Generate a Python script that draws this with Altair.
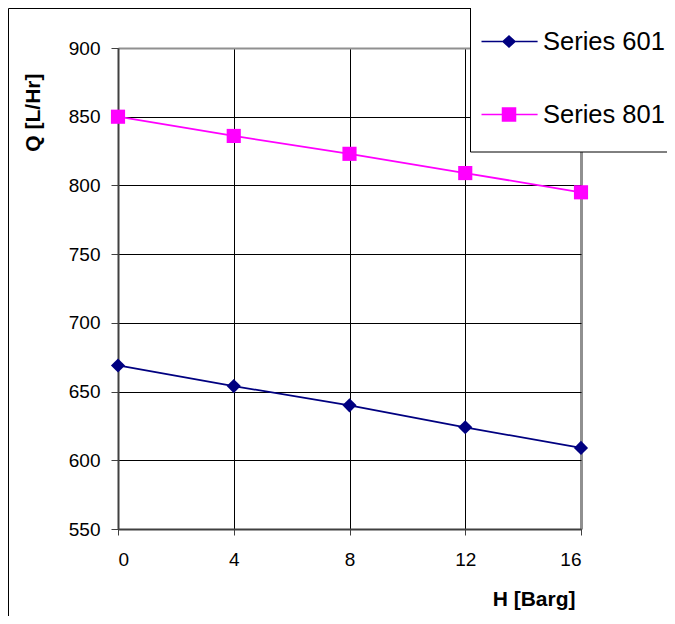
import altair as alt
import pandas as pd

h_values = [0, 4, 8, 12, 16]
q_601 = [669, 654, 640, 624, 609]
q_801 = [850, 836, 823, 809, 795]
series_names = ["Series 601", "Series 801"]
series_colors = ["#000080", "#FF00FF"]
x_ticks = [0, 4, 8, 12, 16]
y_ticks = [550, 600, 650, 700, 750, 800, 850, 900]

df = pd.DataFrame({
    "H": h_values * 2,
    "Q": q_601 + q_801,
    "series": [series_names[0]] * len(h_values) + [series_names[1]] * len(h_values),
})

FONT = "Liberation Sans"

color_scale = alt.Scale(domain=series_names, range=series_colors)

x_axis = alt.Axis(
    values=x_ticks, title="H [Barg]", titleFont=FONT, titleFontSize=21, titleFontWeight="bold",
    titleColor="black", titleAlign="right", titleBaseline="alphabetic", titleX=457, titleY=76,
    labelFont=FONT, labelFontSize=19, labelColor="black", labelPadding=15, tickSize=6,
    tickColor="#404040", domainColor="#404040", domainWidth=2,
    gridColor={"condition": {"test": "datum.value >= 16", "value": "#909090"}, "value": "black"},
    gridWidth={"condition": {"test": "datum.value >= 16", "value": 3}, "value": 1},
)
y_axis = alt.Axis(
    values=y_ticks, title="Q [L/Hr]", titleFont=FONT, titleFontSize=21, titleFontWeight="bold",
    titleColor="black", titleAngle=270, titleAlign="right", titleBaseline="alphabetic",
    titleX=-79, titleY=25,
    labelFont=FONT, labelFontSize=19, labelColor="black", labelPadding=11, tickSize=7,
    tickColor="#404040", domainColor="#404040", domainWidth=2,
    gridColor={"condition": {"test": "datum.value >= 900", "value": "#909090"}, "value": "black"},
    gridWidth={"condition": {"test": "datum.value >= 900", "value": 2}, "value": 1},
)

base = alt.Chart(df).encode(
    x=alt.X("H:Q", scale=alt.Scale(domain=[0, 16], nice=False, zero=False), axis=x_axis),
    y=alt.Y("Q:Q", scale=alt.Scale(domain=[550, 900], nice=False, zero=False), axis=y_axis),
)

lines = base.mark_line(strokeWidth=1.75).encode(
    color=alt.Color("series:N", scale=color_scale, legend=None)
)

points = base.mark_point(filled=True, size=200, opacity=1).encode(
    color=alt.Color("series:N", scale=color_scale, legend=None),
    shape=alt.Shape("series:N", scale=alt.Scale(domain=series_names, range=["diamond", "square"]), legend=None),
)

legend_paths = [
    "M-0.85,0H1.02M0.067,-0.18L0.267,0L0.067,0.18L-0.133,0Z",
    "M-0.85,0H1.02M-0.15,-0.217H0.284V0.217H-0.15Z",
]

leg = alt.Legend(
    title="\u00a0", titleOrient="bottom", titleFontSize=8, titlePadding=9,
    orient="none", legendX=352, legendY=-43.5, padding=6,
    strokeColor="black", fillColor="white", symbolSize=3600, symbolStrokeWidth=1.5,
    symbolOpacity=1, labelFont=FONT, labelFontSize=25.5, labelColor="black",
    labelOffset=5, rowPadding=28, labelLimit=0, cornerRadius=0, direction="vertical",
)

legend_layer = base.transform_filter("datum.H < 0").mark_point(
    filled=True, opacity=1, strokeWidth=1.5
).encode(
    color=alt.Color("series:N", scale=color_scale, legend=leg),
    stroke=alt.Stroke("series:N", scale=color_scale, legend=leg),
    shape=alt.Shape("series:N", scale=alt.Scale(domain=series_names, range=legend_paths), legend=leg),
)

border = alt.Chart(pd.DataFrame({"k": [0]})).mark_rect(
    fillOpacity=0, stroke="black", strokeWidth=1
).encode(
    x=alt.value(-109.5), x2=alt.value(700), y=alt.value(-39.5), y2=alt.value(700)
)

chart = alt.layer(border, lines, points, legend_layer).resolve_scale(
    shape="independent"
).resolve_legend(
    color="independent", shape="independent", stroke="independent"
).properties(
    width=463, height=481,
    autosize=alt.AutoSizeParams(type="none"),
    padding={"left": 110, "top": 40, "right": 86, "bottom": 87},
).configure(font=FONT).configure_view(strokeWidth=0)

chart.save("out.html", embed_options={"renderer": "svg", "actions": False})
